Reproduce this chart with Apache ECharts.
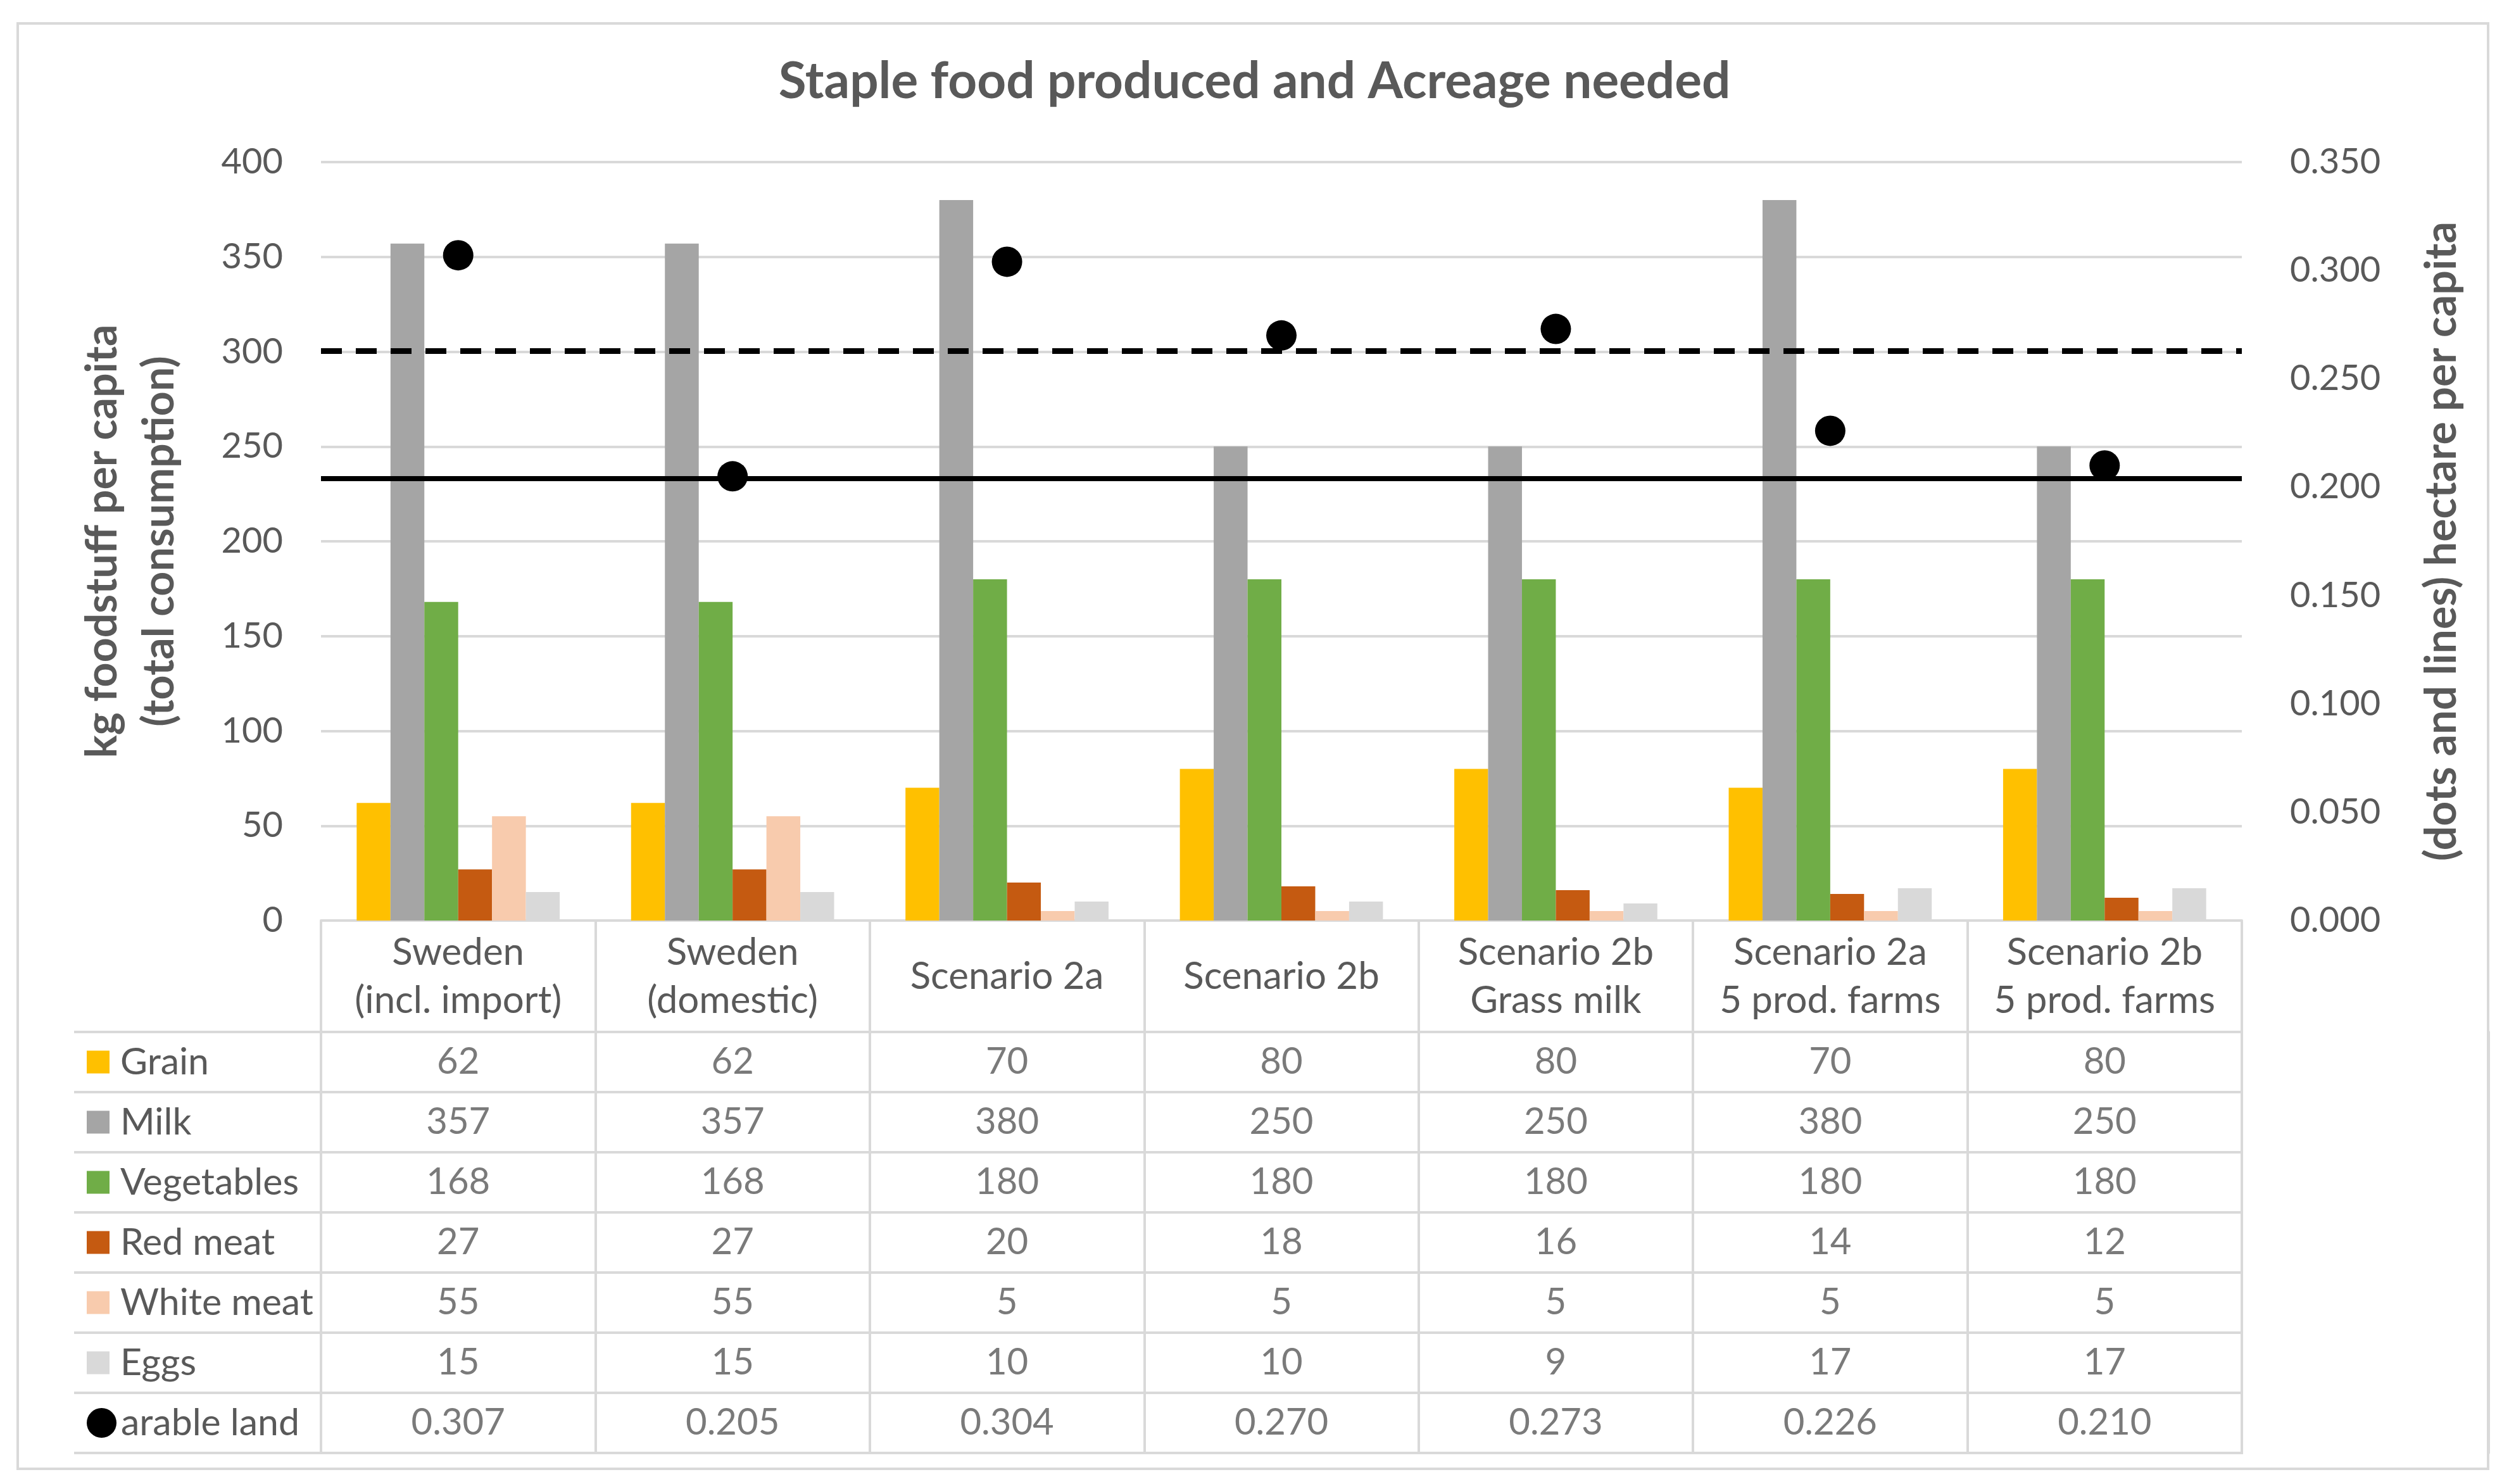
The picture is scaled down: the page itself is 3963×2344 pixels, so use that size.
<!DOCTYPE html>
<html>
<head>
<meta charset="utf-8">
<script src="https://cdn.jsdelivr.net/npm/echarts@6/dist/echarts.min.js"></script>
<style>
html, body { margin: 0; padding: 0; background: #fff; }
#main { width: 3963px; height: 2344px; }
</style>
</head>
<body>
<div id="main"></div>
<script>
/* 类目与数据 */
var categories = ['Sweden\n(incl. import)', 'Sweden\n(domestic)', 'Scenario 2a', 'Scenario 2b',
	'Scenario 2b\nGrass milk', 'Scenario 2a\n5 prod. farms', 'Scenario 2b\n5 prod. farms'];
var rowNames = ['Grain', 'Milk', 'Vegetables', 'Red meat', 'White meat', 'Eggs', 'arable land'];
var grain = [62, 62, 70, 80, 80, 70, 80];
var milk = [357, 357, 380, 250, 250, 380, 250];
var vegetables = [168, 168, 180, 180, 180, 180, 180];
var redMeat = [27, 27, 20, 18, 16, 14, 12];
var whiteMeat = [55, 55, 5, 5, 5, 5, 5];
var eggs = [15, 15, 10, 10, 9, 17, 17];
var arableLand = [0.307, 0.205, 0.304, 0.270, 0.273, 0.226, 0.210];
var dashedLevel = [0.263];
var solidLevel = [0.204];
var leftTicks = [0, 400, 50];
var rightTicks = [0, 0.35, 0.05];

var colors = ['#FFC000', '#A5A5A5', '#70AD47', '#C55A11', '#F8CBAD', '#D9D9D9'];
var textColor = '#595959';
var lineGray = '#D9D9D9';
var font = 'Lato';

var myChart = echarts.init(document.getElementById('main'));

var barData = [grain, milk, vegetables, redMeat, whiteMeat, eggs];
var series = [];
for (var i = 0; i < barData.length; i++) {
	series.push({
		name: rowNames[i],
		type: 'bar',
		xAxisIndex: 0,
		yAxisIndex: 0,
		barGap: '0%',
		barCategoryGap: '26%',
		itemStyle: { color: colors[i] },
		data: barData[i]
	});
}
series.push({
	name: 'arable land',
	type: 'scatter',
	xAxisIndex: 0,
	yAxisIndex: 1,
	symbol: 'circle',
	symbolSize: 48,
	itemStyle: { color: '#000', opacity: 1 },
	data: arableLand,
	z: 5,
	markLine: {
		silent: true,
		symbol: 'none',
		precision: 3,
		label: { show: false },
		data: [
			{ yAxis: dashedLevel[0], lineStyle: { color: '#000', width: 9, type: [33, 22], opacity: 1 } },
			{ yAxis: solidLevel[0], lineStyle: { color: '#000', width: 8, type: 'solid', opacity: 1 } }
		]
	}
});

// 数据表格单元格
var cells = [];
var tableRows = barData.concat([arableLand]);
for (var r = 0; r < tableRows.length; r++) {
	for (var c = 0; c < categories.length; c++) {
		cells.push([c, r, tableRows[r][c]]);
	}
}
series.push({
	type: 'scatter',
	xAxisIndex: 1,
	yAxisIndex: 2,
	symbol: 'rect',
	symbolSize: 1,
	silent: true,
	itemStyle: { color: 'rgba(0,0,0,0)' },
	label: {
		show: true,
		position: 'inside',
		color: textColor,
		fontFamily: font,
		fontSize: 58,
		formatter: function (p) {
			var v = p.value[2];
			return p.value[1] === rowNames.length - 1 ? v.toFixed(3) : String(v);
		}
	},
	data: cells
});

var rich = {
	txt: { color: textColor, fontFamily: font, fontSize: 59, padding: [0, 0, 0, 17] },
	txt2: { color: textColor, fontFamily: font, fontSize: 59, padding: [0, 0, 0, 7] },
	dot: { width: 47, height: 47, borderRadius: 24, backgroundColor: '#000' }
};
for (var k = 0; k < colors.length; k++) {
	rich['s' + k] = { width: 36, height: 36, backgroundColor: colors[k] };
}

var option = {
	animation: false,
	backgroundColor: '#fff',
	title: {
		text: 'Staple food produced and Acreage needed',
		left: 'center',
		top: 84,
		textStyle: { color: textColor, fontFamily: font, fontSize: 80, fontWeight: 'bold' }
	},
	graphic: [{
		type: 'rect',
		shape: { x: 28, y: 37, width: 3902, height: 2283 },
		style: { fill: 'none', stroke: lineGray, lineWidth: 4 },
		silent: true
	}],
	grid: [
		{ left: 507, right: 422, top: 256, height: 1198 },
		{ left: 507, right: 422, top: 1630, height: 665, show: true, borderColor: lineGray, borderWidth: 4 }
	],
	xAxis: [
		{
			type: 'category', gridIndex: 0, data: categories,
			axisLine: { lineStyle: { color: lineGray, width: 4 } },
			axisTick: { show: false }, axisLabel: { show: false }
		},
		{
			type: 'category', gridIndex: 1, data: categories, position: 'top',
			axisLine: { lineStyle: { color: lineGray, width: 4 } },
			axisTick: { show: true, length: 175, lineStyle: { color: lineGray, width: 4 } },
			splitLine: { show: true, lineStyle: { color: lineGray, width: 4 } },
			axisLabel: {
				color: textColor, fontFamily: font, fontSize: 60, lineHeight: 76,
				margin: 87, verticalAlign: 'middle', interval: 0
			}
		}
	],
	yAxis: [
		{
			type: 'value', gridIndex: 0, min: leftTicks[0], max: leftTicks[1], interval: leftTicks[2],
			name: 'kg foodstuff per capita\n(total consumption)',
			nameLocation: 'middle', nameRotate: 90, nameGap: 210,
			nameTextStyle: { color: textColor, fontFamily: font, fontSize: 68, fontWeight: 'bold', lineHeight: 90 },
			axisLine: { show: false }, axisTick: { show: false },
			axisLabel: { color: textColor, fontFamily: font, fontSize: 56, margin: 60 },
			splitLine: { lineStyle: { color: lineGray, width: 4 } }
		},
		{
			type: 'value', gridIndex: 0, position: 'right',
			min: rightTicks[0], max: rightTicks[1], interval: rightTicks[2],
			name: '(dots and lines) hectare per capita',
			nameLocation: 'middle', nameRotate: 90, nameGap: 282,
			nameTextStyle: { color: textColor, fontFamily: font, fontSize: 68, fontWeight: 'bold' },
			axisLine: { show: false }, axisTick: { show: false },
			axisLabel: {
				color: textColor, fontFamily: font, fontSize: 56, margin: 76,
				formatter: function (v) { return v.toFixed(3); }
			},
			splitLine: { show: false }
		},
		{
			type: 'category', gridIndex: 1, data: rowNames, inverse: true,
			axisLine: { lineStyle: { color: lineGray, width: 4 } },
			axisTick: { show: true, length: 390, lineStyle: { color: lineGray, width: 4 } },
			splitLine: { show: true, lineStyle: { color: lineGray, width: 4 } },
			axisLabel: {
				align: 'left', margin: 370, interval: 0, rich: rich,
				formatter: function (v) {
					var idx = rowNames.indexOf(v);
					if (idx === rowNames.length - 1) return '{dot|}{txt2|' + v + '}';
					return '{s' + idx + '|}{txt|' + v + '}';
				}
			}
		},
		{
			type: 'category', gridIndex: 1, data: rowNames, inverse: true, offset: 390,
			axisLine: { lineStyle: { color: lineGray, width: 4 } },
			axisTick: { show: false }, axisLabel: { show: false }
		}
	],
	series: series
};

myChart.setOption(option);
window.onresize = function () {
	myChart.resize();
};
</script>
</body>
</html>
